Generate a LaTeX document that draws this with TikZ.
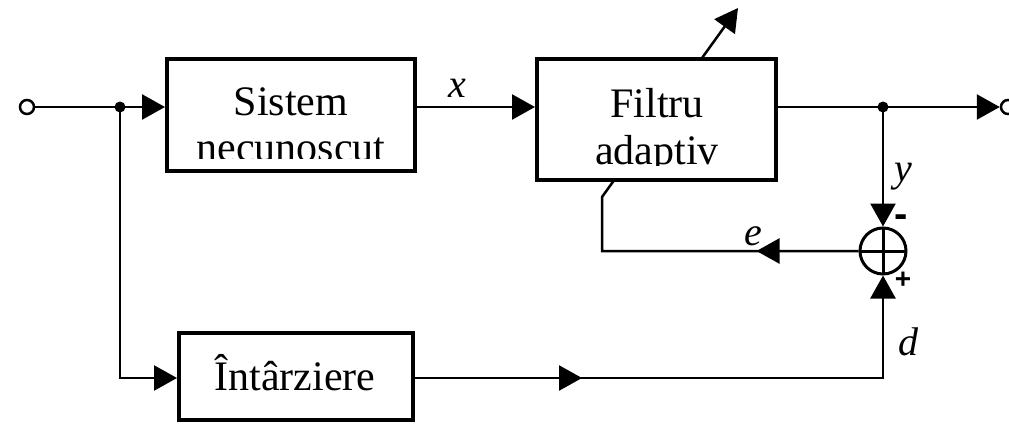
\documentclass[tikz,border=0pt]{standalone}
\usepackage{fontspec}
\setmainfont{Liberation Serif}
\newfontfamily\signfont{Liberation Sans Bold}
\usetikzlibrary{arrows.meta,decorations.markings}

\begin{document}
\begin{tikzpicture}[x=1pt,y=-1pt,
  blockbox/.style={draw,line width=4pt,fill=white,inner sep=0pt},
  wire/.style={line width=2.5pt},
  tipend/.style={-{Triangle[length=23pt,width=25pt]}},
  midtip/.style={postaction=decorate,decoration={markings,
      mark=at position #1 with {\arrow{Triangle[length=23pt,width=25pt]}}}},
  dotnode/.style={circle,fill,inner sep=0pt,minimum size=11pt},
  portnode/.style={circle,draw,line width=2.5pt,fill=white,inner sep=0pt,minimum size=14pt},
  sumnode/.style={circle,draw,line width=3pt,fill=white,inner sep=0pt,minimum size=46pt,
      path picture={\draw[line width=3pt]
        (path picture bounding box.north) -- (path picture bounding box.south)
        (path picture bounding box.west) -- (path picture bounding box.east);}},
  blocktext/.style={inner sep=0pt,anchor=base,font=\fontsize{42}{46}\selectfont},
  lbl/.style={inner sep=0pt,anchor=base,font=\fontsize{40}{40}\selectfont\itshape},
  signlbl/.style={inner sep=0pt}
]
\useasboundingbox (0,0) rectangle (1009,423);

% junctions and ports
\coordinate (j1) at (120,107);
\coordinate (j2) at (883,107);
\coordinate (fb1) at (602,252);
\coordinate (fb2) at (602,197);
\coordinate (adj) at (738,8);
\coordinate (corner) at (883,378);

% summing junction
\node[sumnode] (sum) at (883,251) {};

% error feedback and adaptation arrow (passes behind the filter block)
\draw[wire,tipend,midtip=102pt] (sum.west) -- (sum.west -| fb1) -- (fb2) -- (adj);

% blocks
\node[blockbox,minimum width=248pt,minimum height=112pt] (sys) at (291,115) {};
\node[blockbox,minimum width=239pt,minimum height=121pt] (fil) at (656.5,119.5) {};
\node[blockbox,minimum width=234pt,minimum height=87pt] (del) at (296,376.5) {};

% block texts
\begin{scope}
  \clip (170,62) rectangle (412,158);
  \node[blocktext] (systxt1) at (291,115) {Sistem};
  \node[blocktext] (systxt2) at (291,161) {necunoscut};
\end{scope}
\begin{scope}
  \clip (540,62) rectangle (773,165);
  \node[blocktext] (filtxt1) at (657,117) {Filtru};
  \node[blocktext] (filtxt2) at (657,164) {adaptiv};
\end{scope}
\node[blocktext] (deltxt) at (295,390) {Întârziere};

% input
\node[portnode] (in) at (27,107) {};
\draw[wire] (in) -- (j1);
\draw[wire,tipend] (j1) -- (j1 -| sys.west);
\draw[wire,tipend] (j1) |- (corner -| del.west);

% unknown system to adaptive filter
\draw[wire,tipend] (sys.east |- j1) -- (fil.west |- j1);
\node[lbl] (xlbl) at (457,97) {x};

% output
\node[portnode] (out) at (1008,107) {};
\draw[wire] (fil.east |- j2) -- (j2);
\draw[wire,tipend] (j2) -- (out.west);
\draw[wire,tipend] (j2) -- (sum.north);
\node[lbl] (ylbl) at (903,181) {y};

% delayed desired signal
\draw[wire,midtip=167pt,tipend] (del.east |- corner) -- (corner) -- (sum.south);
\node[lbl] (dlbl) at (908,355) {d};
\node[lbl] (elbl) at (753,245) {e};

% signs at the summing junction
\node[signlbl] (minus) at (901,221) {\fontsize{40}{40}\selectfont\signfont -};
\node[signlbl] (plus) at (903,280) {\fontsize{28}{28}\selectfont\signfont +};

% junction dots
\node[dotnode] (d1) at (j1) {};
\node[dotnode] (d2) at (j2) {};
\end{tikzpicture}
\end{document}
